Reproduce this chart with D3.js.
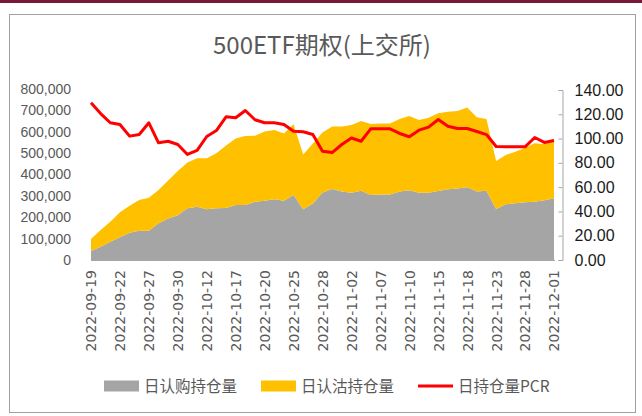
<!DOCTYPE html>
<html>
<head>
<meta charset="utf-8">
<script src="https://cdn.jsdelivr.net/npm/d3@7"></script>
<style>
body { margin: 0; background: #fff; }
</style>
</head>
<body>
<script>
// trading days shown on the x axis
var dates = ["2022-09-19","2022-09-20","2022-09-21","2022-09-22","2022-09-23","2022-09-26","2022-09-27","2022-09-28","2022-09-29","2022-09-30",
  "2022-10-10","2022-10-11","2022-10-12","2022-10-13","2022-10-14","2022-10-17","2022-10-18","2022-10-19","2022-10-20","2022-10-21",
  "2022-10-24","2022-10-25","2022-10-26","2022-10-27","2022-10-28","2022-10-31","2022-11-01","2022-11-02","2022-11-03","2022-11-04",
  "2022-11-07","2022-11-08","2022-11-09","2022-11-10","2022-11-11","2022-11-14","2022-11-15","2022-11-16","2022-11-17","2022-11-18",
  "2022-11-21","2022-11-22","2022-11-23","2022-11-24","2022-11-25","2022-11-28","2022-11-29","2022-11-30","2022-12-01"];

// 日认购持仓量 (call open interest)
var callOI = [42000,62000,85000,106000,128000,137000,137000,172000,194000,209000,
  242000,249000,237000,242000,243000,257000,257000,273000,277000,284000,
  277000,304000,237000,264000,316000,332000,320000,315000,324000,304000,
  307000,307000,320000,326000,315000,315000,323000,331000,335000,340000,
  320000,324000,239000,261000,265000,270000,273000,279000,289000];

// 日认沽持仓量 (put open interest)
var putOI = [56000,78000,94000,117000,126000,144000,154000,155000,178000,207000,
  214000,227000,239000,257000,293000,311000,323000,308000,324000,324000,
  315000,331000,257000,281000,280000,292000,304000,317000,326000,332000,
  332000,332000,340000,348000,340000,351000,363000,363000,362000,374000,
  348000,336000,224000,230000,242000,255000,273000,262000,277000];

// 日持仓量PCR
var pcr = [129.5,120.6,113.0,111.6,102.0,103.3,113.0,96.5,97.8,95.1,
  86.9,90.2,101.7,106.6,117.9,117.1,123.1,115.5,113.0,113.0,
  111.6,106.0,105.6,103.3,89.6,88.5,95.1,100.5,97.8,108.0,
  108.0,108.0,104.2,101.5,106.9,109.4,115.7,110.2,108.3,108.3,
  105.8,103.3,93.5,93.2,93.2,93.2,100.9,96.8,98.4];

var leftTicks = [0,100000,200000,300000,400000,500000,600000,700000,800000];
var rightTicks = [0,20,40,60,80,100,120,140];

var W = 642, H = 416;
var svg = d3.select("body").append("svg").attr("width", W).attr("height", H);

// top band and chart frame
svg.append("rect").attr("x", 0).attr("y", 0).attr("width", W).attr("height", 3).attr("fill", "#7a1837");
svg.append("rect").attr("x", 9.5).attr("y", 14.5).attr("width", 626).attr("height", 398)
  .attr("fill", "#fff").attr("stroke", "#a0a0a0").attr("stroke-width", 1);

svg.append("text").attr("x", 322).attr("y", 54).attr("text-anchor", "middle")
  .style("font-family", "'Noto Sans CJK SC', 'Noto Sans', sans-serif").style("font-size", "24px")
  .attr("fill", "#595959").text("500ETF期权(上交所)");

var x = d3.scalePoint().domain(dates).range([91, 554]);
var yL = d3.scaleLinear().domain([0, 800000]).range([260, 89]);
var yR = d3.scaleLinear().domain([0, 140]).range([260, 90]);

var rows = dates.map(function(d, i){ return {date: d, call: callOI[i], put: putOI[i]}; });
var stack = d3.stack().keys(["call", "put"])(rows);
var colors = {call: "#a5a5a5", put: "#ffc000"};

var area = d3.area()
  .x(function(d){ return x(d.data.date); })
  .y0(function(d){ return yL(d[0]); })
  .y1(function(d){ return yL(d[1]); });

svg.selectAll(".layer").data(stack).enter().append("path")
  .attr("class", "layer").attr("d", area)
  .attr("fill", function(s){ return colors[s.key]; });

// bottom axis line
svg.append("line").attr("x1", 91).attr("x2", 555).attr("y1", 260.5).attr("y2", 260.5)
  .attr("stroke", "#a6a6a6").attr("stroke-width", 1);

// left axis (labels only)
var gL = svg.append("g").attr("transform", "translate(71,0)")
  .call(d3.axisLeft(yL).tickValues(leftTicks).tickSize(0).tickPadding(0).tickFormat(d3.format(",")));
gL.select(".domain").remove();
gL.selectAll("text").attr("fill", "#595959")
  .style("font-family", "'Liberation Sans', Arial, sans-serif").style("font-size", "14px");

// right axis
var gR = svg.append("g").attr("transform", "translate(562.5,0)")
  .call(d3.axisRight(yR).tickValues(rightTicks).tickSize(-4).tickPadding(12).tickFormat(d3.format(".2f")));
gR.select(".domain").attr("stroke", "#a6a6a6").attr("d", "M-4,90.5H0.5V260.5H-4");
gR.selectAll("line").attr("stroke", "#a6a6a6");
gR.selectAll("text").attr("fill", "#1a1a1a")
  .style("font-family", "'Liberation Sans', Arial, sans-serif").style("font-size", "16px");

// x labels every 3rd day
var shown = dates.filter(function(d, i){ return i % 3 === 0; });
var gX = svg.append("g").attr("transform", "translate(0,270)")
  .call(d3.axisBottom(x).tickValues(shown).tickSize(0).tickPadding(0));
gX.select(".domain").remove();
gX.selectAll("text").attr("transform", "rotate(-90)")
  .attr("text-anchor", "end").attr("x", 0).attr("y", 0).attr("dy", "0.35em")
  .attr("fill", "#595959")
  .style("font-family", "'DejaVu Sans', sans-serif").style("font-size", "14px");

// PCR line
var line = d3.line()
  .x(function(d, i){ return x(dates[i]); })
  .y(function(d){ return yR(d); });
svg.append("path").datum(pcr).attr("d", line)
  .attr("fill", "none").attr("stroke", "#ff0000").attr("stroke-width", 3)
  .attr("stroke-linejoin", "round");

// legend
var legend = [
  {name: "日认购持仓量", type: "rect", color: "#a5a5a5", x: 104},
  {name: "日认沽持仓量", type: "rect", color: "#ffc000", x: 261},
  {name: "日持仓量PCR", type: "line", color: "#ff0000", x: 418}
];
var lg = svg.selectAll(".lg").data(legend).enter().append("g").attr("class", "lg")
  .attr("transform", function(d){ return "translate(" + d.x + ",386)"; });
lg.filter(function(d){ return d.type === "rect"; }).append("rect")
  .attr("x", 0).attr("y", -5.5).attr("width", 35).attr("height", 11).attr("fill", function(d){ return d.color; });
lg.filter(function(d){ return d.type === "line"; }).append("line")
  .attr("x1", 0).attr("x2", 35).attr("y1", 0).attr("y2", 0)
  .attr("stroke", function(d){ return d.color; }).attr("stroke-width", 3);
lg.append("text").attr("x", 40).attr("y", 0).attr("dy", "0.36em")
  .attr("fill", "#595959")
  .style("font-family", "'Noto Sans CJK SC', sans-serif").style("font-size", "15.5px")
  .text(function(d){ return d.name; });
</script>
</body>
</html>
